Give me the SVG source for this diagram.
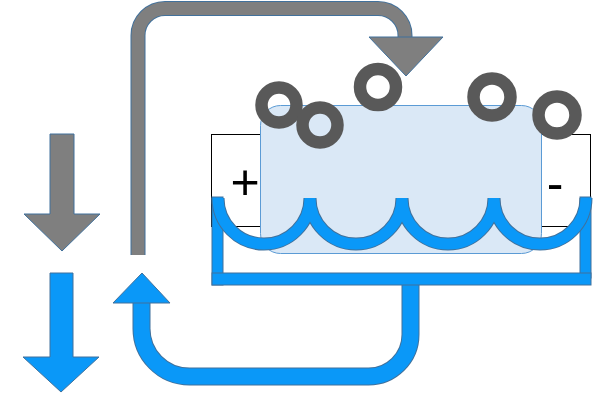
<svg xmlns="http://www.w3.org/2000/svg" width="594" height="397" viewBox="0 0 594 397">
  <style>
    .edge { fill: none; stroke: #41719c; }
    .grayfill { fill: none; stroke: #7f7f7f; }
    .bluefill { fill: none; stroke: #0a98f8; }
    .head-gray { fill: #7f7f7f; stroke: #41719c; stroke-width: 1; }
    .head-blue { fill: #0a98f8; stroke: #41719c; stroke-width: 1; }
    .bar { fill: #0a98f8; stroke: #41719c; stroke-width: 1; }
    .ring { fill: none; stroke: #595959; stroke-width: 12.5; }
    .sign { font-family: "Liberation Sans", Arial, sans-serif; font-size: 50px; fill: #000; text-anchor: middle; }
  </style>

  <g id="connectors">
    <!-- gray return loop over the top -->
    <path class="edge" stroke-width="15" d="M138,255 V35.5 A27,27 0 0 1 165,8.5 H378 A27,27 0 0 1 405,35.5 V38"/>
    <path class="grayfill" stroke-width="13" d="M138,255 V35.5 A27,27 0 0 1 165,8.5 H378 A27,27 0 0 1 405,35.5 V38"/>
    <polygon class="head-gray" points="369,37 443,37 406,76"/>

    <!-- blue return loop underneath -->
    <path class="edge" stroke-width="18" d="M141.5,302 V328 A48,48 0 0 0 189.5,376.5 H368 A42,42 0 0 0 410.5,334.5 V284"/>
    <path class="bluefill" stroke-width="16" d="M141.5,302 V328 A48,48 0 0 0 189.5,376.5 H368 A42,42 0 0 0 410.5,334.5 V284"/>
    <polygon class="head-blue" points="113,303 170,303 142,273"/>
  </g>

  <g id="legend-gray">
    <polygon class="head-gray" points="50,134 74,134 74,214 100,214 62,251 24,214 50,214"/>
  </g>
  <g id="legend-blue">
    <polygon class="head-blue" points="50,273 73,273 73,357 99,357 61,392 23,357 50,357"/>
  </g>

  <g id="cell">
    <rect x="211.5" y="134.5" width="379" height="92" fill="#fff" stroke="#000" stroke-width="1"/>
    <text class="sign" x="245" y="199">+</text>
    <text class="sign" x="555" y="200">-</text>
  </g>

  <g id="membrane">
    <rect x="260.5" y="105.5" width="281" height="148" rx="20" ry="20" fill="#dae8f6" stroke="#5b9bd5" stroke-width="1"/>
  </g>

  <g id="tray">
    <rect class="bar" x="212" y="197" width="11" height="88"/>
    <rect class="bar" x="580" y="197" width="11" height="81"/>
    <rect class="bar" x="212" y="273" width="379" height="12"/>
    <path class="edge" stroke-width="13" d="M218,198 A46,46 0 0 0 310,198 A46,46 0 0 0 402,198 A46,46 0 0 0 494,198 A46,46 0 0 0 586,198"/>
    <path class="bluefill" stroke-width="11" d="M218,198 A46,46 0 0 0 310,198 A46,46 0 0 0 402,198 A46,46 0 0 0 494,198 A46,46 0 0 0 586,198"/>
  </g>

  <g id="particles">
    <circle class="ring" cx="279" cy="105" r="17.5"/>
    <circle class="ring" cx="320" cy="125" r="17.5"/>
    <circle class="ring" cx="378" cy="87" r="18"/>
    <circle class="ring" cx="492" cy="97" r="18.5"/>
    <circle class="ring" cx="557" cy="115" r="18.5"/>
  </g>
</svg>
